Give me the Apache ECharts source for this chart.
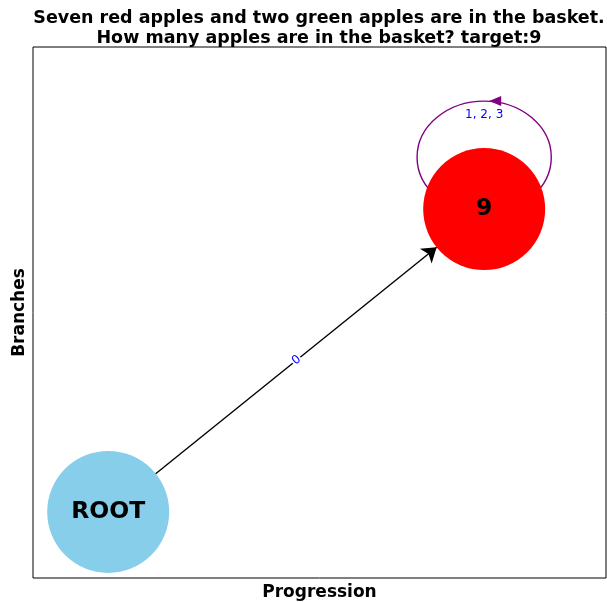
<!DOCTYPE html>
<html>
<head>
<meta charset="utf-8">
<script src="https://cdn.jsdelivr.net/npm/echarts@6/dist/echarts.min.js"></script>
<style>
  html, body { margin: 0; padding: 0; background: #fff; }
  #chart { width: 607px; height: 602px; }
</style>
</head>
<body>
<div id="chart"></div>
<script>
// nodes
const nodeNames = ["ROOT", "9"];
const nodeX = [0, 1];
const nodeY = [0, 1];
const nodeColors = ["#87ceeb", "#ff0000"];

// edges between different nodes
const edgeSource = ["ROOT"];
const edgeTarget = ["9"];
const edgeLabels = ["0"];

// self loops (node index + label)
const loopNode = [1];
const loopLabels = ["1, 2, 3"];

const titleLines = [
  "Seven red apples and two green apples are in the basket.",
  "How many apples are in the basket? target:9"
];

const NODE_SIZE = 122;
const FONT = "DejaVu Sans";

const myChart = echarts.init(document.getElementById("chart"));

// draws the self loop above a node
const renderLoop = (params, api) => {
  const c = api.coord([api.value(0), api.value(1)]);
  const r = NODE_SIZE / 2;
  const cx = c[0];
  const cy = c[1] - r * 0.85;
  const rx = r * 1.1;
  const ry = r * 0.92;
  const top = cy - ry;
  const tipX = cx + 5;
  return {
    type: "group",
    children: [
      {
        type: "ellipse",
        shape: { cx: cx, cy: cy, rx: rx, ry: ry },
        style: { fill: "none", stroke: "#800080", lineWidth: 1.4 }
      },
      {
        type: "polygon",
        shape: { points: [[tipX, top], [tipX + 12, top - 5], [tipX + 12, top + 5]] },
        style: { fill: "#800080" }
      },
      {
        type: "text",
        x: cx,
        y: top + 14,
        style: {
          text: loopLabels[params.dataIndex],
          fontFamily: FONT,
          fontSize: 12,
          fill: "#0000ff",
          align: "center",
          verticalAlign: "middle"
        }
      }
    ]
  };
};

const option = {
  animation: false,
  title: {
    text: titleLines.join("\n"),
    left: 314,
    top: 3,
    textAlign: "center",
    textStyle: {
      fontFamily: FONT,
      fontWeight: "bold",
      fontSize: 17.5,
      lineHeight: 20,
      color: "#000"
    }
  },
  grid: {
    left: 33,
    right: 1,
    top: 47,
    bottom: 24,
    outerBoundsMode: "none",
    show: true,
    borderColor: "#000",
    borderWidth: 1,
    backgroundColor: "#fff"
  },
  xAxis: {
    type: "value",
    min: -0.2,
    max: 1.324,
    name: "Progression",
    nameLocation: "middle",
    nameGap: 6,
    nameTextStyle: { fontFamily: FONT, fontWeight: "bold", fontSize: 17, color: "#000" },
    axisLine: { show: false },
    axisTick: { show: false },
    axisLabel: { show: false },
    splitLine: { show: false }
  },
  yAxis: {
    type: "value",
    min: -0.218,
    max: 1.535,
    name: "Branches",
    nameLocation: "middle",
    nameGap: 5,
    nameTextStyle: { fontFamily: FONT, fontWeight: "bold", fontSize: 17, color: "#000" },
    axisLine: { show: false },
    axisTick: { show: false },
    axisLabel: { show: false },
    splitLine: { show: false }
  },
  series: [
    {
      type: "custom",
      coordinateSystem: "cartesian2d",
      renderItem: renderLoop,
      data: loopNode.map(i => [nodeX[i], nodeY[i]]),
      z: 1,
      silent: true
    },
    {
      type: "graph",
      coordinateSystem: "cartesian2d",
      layout: "none",
      symbolSize: NODE_SIZE,
      edgeSymbol: ["none", "arrow"],
      edgeSymbolSize: [0, 14],
      z: 3,
      data: nodeNames.map((n, i) => ({
        name: n,
        value: [nodeX[i], nodeY[i]],
        itemStyle: { color: nodeColors[i] }
      })),
      label: {
        show: true,
        position: "inside",
        fontFamily: FONT,
        fontWeight: "bold",
        fontSize: 23.5,
        color: "#000"
      },
      lineStyle: { color: "#000", width: 1.4, opacity: 1, curveness: 0 },
      links: edgeSource.map((s, i) => ({
        source: s,
        target: edgeTarget[i],
        label: { show: true, formatter: edgeLabels[i] }
      })),
      edgeLabel: {
        show: true,
        position: "middle",
        distance: 0,
        verticalAlign: "middle",
        offset: [31, 0],
        fontFamily: FONT,
        fontSize: 12,
        color: "#0000ff",
        backgroundColor: "#fff",
        padding: [0, 1]
      }
    }
  ]
};

option && myChart.setOption(option);
</script>
</body>
</html>
